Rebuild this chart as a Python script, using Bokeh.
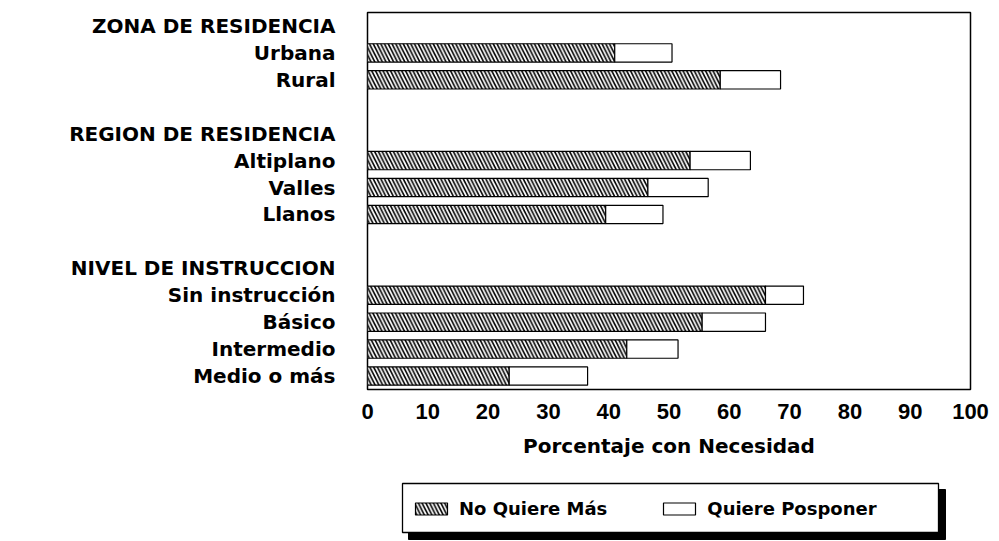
from bokeh.plotting import figure
from bokeh.models import Range1d, FixedTicker, ColumnDataSource, Legend, LegendItem
from bokeh.layouts import column
from bokeh.embed import file_html
from bokeh.resources import INLINE

# ---------------- data ----------------
groups = ["ZONA DE RESIDENCIA", "REGION DE RESIDENCIA", "NIVEL DE INSTRUCCION"]
group_sizes = [2, 3, 4]
categories = ["Urbana", "Rural",
              "Altiplano", "Valles", "Llanos",
              "Sin instrucción", "Básico", "Intermedio", "Medio o más"]
no_quiere_mas = [41.0, 58.5, 53.5, 46.5, 39.5, 66.0, 55.5, 43.0, 23.5]
quiere_posponer = [9.5, 10.0, 10.0, 10.0, 9.5, 6.3, 10.5, 8.5, 13.0]
x_ticks = [0, 10, 20, 30, 40, 50, 60, 70, 80, 90, 100]
series_labels = ["No Quiere Más", "Quiere Posponer"]
x_title = "Porcentaje con Necesidad"

# ---------------- row layout (header + items, blank between groups) ----------------
ys, tick_pos, tick_lab = [], [], []
slot = 0
ci = 0
for g, n in zip(groups, group_sizes):
    tick_pos.append(slot)
    tick_lab.append(g)
    slot += 1
    for _ in range(n):
        ys.append(slot)
        tick_pos.append(slot)
        tick_lab.append(categories[ci])
        ci += 1
        slot += 1
    slot += 1  # blank row
n_slots = slot - 1

total = [a + b for a, b in zip(no_quiere_mas, quiere_posponer)]
src = ColumnDataSource(dict(y=ys, nqm=no_quiere_mas, tot=total))

WORD_FONT = "DejaVu Sans"
NUM_FONT = "Liberation Sans"

BL, BR = 367, 29   # frame borders left / right (px)

p = figure(width=999, height=470,
           x_range=Range1d(0, 100), y_range=Range1d(n_slots - 0.5, -0.5),
           output_backend="svg", toolbar_location=None,
           min_border_left=BL, min_border_right=BR,
           min_border_top=12, min_border_bottom=81)

hatch_kw = dict(fill_color="white", line_color="black", line_width=1.2,
                hatch_pattern="\\", hatch_color="black",
                hatch_scale=7.5, hatch_weight=1.6)
plain_kw = dict(fill_color="white", line_color="black", line_width=1.2)

p.hbar(y="y", left=0, right="nqm", height=0.68, source=src, **hatch_kw)
p.hbar(y="y", left="nqm", right="tot", height=0.68, source=src, **plain_kw)

p.grid.visible = False
p.outline_line_color = "black"
p.outline_line_width = 1.5
p.outline_line_alpha = 1.0

xa = p.xaxis[0]
xa.ticker = FixedTicker(ticks=x_ticks)
xa.major_tick_line_color = None
xa.major_tick_out = 0
xa.major_tick_in = 0
xa.minor_tick_line_color = None
xa.axis_line_color = None
xa.major_label_standoff = 14
xa.major_label_text_font = NUM_FONT
xa.major_label_text_font_style = "bold"
xa.major_label_text_font_size = "22px"
xa.major_label_text_color = "black"
xa.axis_label = x_title
xa.axis_label_standoff = 12
xa.axis_label_text_font = WORD_FONT
xa.axis_label_text_font_style = "bold"
xa.axis_label_text_font_size = "20px"
xa.axis_label_text_color = "black"

ya = p.yaxis[0]
ya.ticker = FixedTicker(ticks=tick_pos)
ya.major_label_overrides = {t: l for t, l in zip(tick_pos, tick_lab)}
ya.major_tick_line_color = None
ya.major_tick_out = 0
ya.major_tick_in = 0
ya.minor_tick_line_color = None
ya.axis_line_color = None
ya.major_label_standoff = 32
ya.major_label_text_font = WORD_FONT
ya.major_label_text_font_style = "bold"
ya.major_label_text_font_size = "20px"
ya.major_label_text_color = "black"

# ---------------- legend panel (x in page pixels) ----------------
p2 = figure(width=999, height=71,
            x_range=Range1d(BL, 999 - BR), y_range=Range1d(71, 0),
            output_backend="svg", toolbar_location=None,
            x_axis_type=None, y_axis_type=None,
            min_border_left=BL, min_border_right=BR,
            min_border_top=0, min_border_bottom=0)
p2.grid.visible = False
p2.outline_line_color = None

# legend-only renderers: a tiny row hidden underneath the legend box
proxy = ColumnDataSource(dict(y=[40], l=[600], r=[601]))
r1 = p2.hbar(y="y", left="l", right="r", height=1, source=proxy, **hatch_kw)
r2 = p2.hbar(y="y", left="l", right="r", height=1, source=proxy, **plain_kw)

# shadow and box (decoration), drawn over the proxies
p2.quad(left=[408], right=[945], top=[19], bottom=[69],
        fill_color="black", line_color="black")
p2.quad(left=[402], right=[938], top=[13], bottom=[62],
        fill_color="white", line_color="black", line_width=1.3)

leg = Legend(items=[LegendItem(label=series_labels[0], renderers=[r1], index=0),
                    LegendItem(label=series_labels[1], renderers=[r2], index=0)],
             orientation="horizontal", location=(44, 22),
             padding=0, margin=0, spacing=52,
             glyph_width=40, glyph_height=15, label_standoff=8,
             label_text_font=WORD_FONT, label_text_font_style="bold",
             label_text_font_size="18px", label_text_color="black",
             border_line_color=None, background_fill_alpha=0)
p2.add_layout(leg)

layout = column(p, p2, spacing=0)
open("out.html", "w").write(file_html(layout, INLINE))
